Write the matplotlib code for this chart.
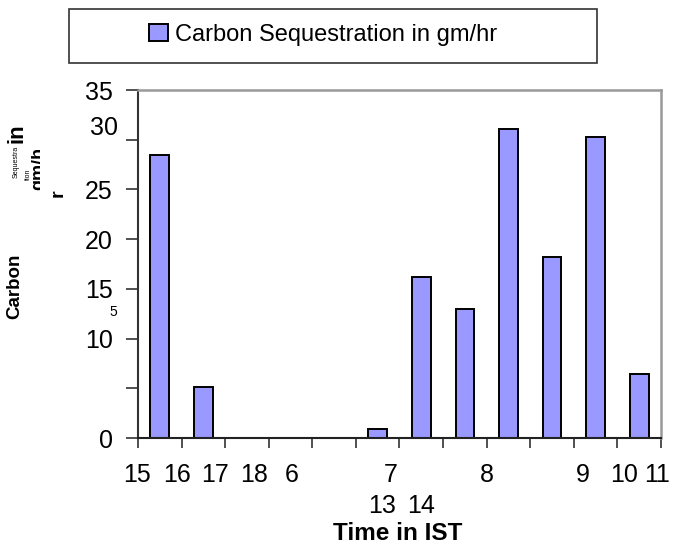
import numpy as np
import matplotlib
matplotlib.use("Agg")
import matplotlib.pyplot as plt
from matplotlib.patches import Rectangle
from matplotlib.transforms import Bbox

plt.rcParams['font.family'] = ['Liberation Sans', 'DejaVu Sans']

# ---------- data ----------
categories = ["15", "16", "17", "18", "6", "7", "13", "14", "8", "9", "10", "11"]
sequestration = [28.5, 5.1, 0, 0, 0, 0.9, 16.2, 13.0, 31.1, 18.2, 30.3, 6.4]
series_name = "Carbon Sequestration in gm/hr"

# garbled x labels as rendered in the source chart (label, x position in data units, row)
xlabel_text = ["15", "16", "17", "18", "6", "7", "8", "9", "10", "11", "13", "14"]
xlabel_pos = [-0.52, 0.39, 1.26, 2.16, 3.03, 5.29, 7.51, 9.71, 10.65, 11.41, 5.09, 6.0]
xlabel_row = [0, 0, 0, 0, 0, 0, 0, 0, 0, 0, 1, 1]

yticks = [0, 5, 10, 15, 20, 25, 30, 35]
ytick_labels = ["0", "", "10", "15", "20", "25", "", "35"]

W, H = 677, 546
BAR_COLOR = "#9999FF"

fig = plt.figure(figsize=(W / 100, H / 100), dpi=100)
ax = fig.add_axes([138 / W, 1 - 438 / H, (661 - 138) / W, (438 - 90) / H])

x = np.arange(len(categories))
bars = ax.bar(x, sequestration, width=0.43, color=BAR_COLOR, edgecolor="black",
              linewidth=1.4, label=series_name, zorder=2)

ax.set_xlim(-0.5, len(categories) - 0.5)
ax.set_ylim(0, 35)

# x ticks on category boundaries, labels drawn separately
ax.set_xticks(np.arange(len(categories) + 1) - 0.5)
ax.set_xticklabels([])
ax.tick_params(axis="x", direction="out", length=7, width=1.2, color="#333333")

ax.set_yticks(yticks)
ax.set_yticklabels(ytick_labels, fontsize=18)
ax.tick_params(axis="y", direction="out", length=9, width=1.2, pad=9, color="#333333")

for s in ["top", "right"]:
    ax.spines[s].set_color("#999999")
    ax.spines[s].set_linewidth(1.8)
ax.spines["left"].set_color("#333333")
ax.spines["bottom"].set_color("#222222")
ax.spines["left"].set_linewidth(1.5)
ax.spines["bottom"].set_linewidth(1.5)

# misplaced y labels
ytr = ax.get_yaxis_transform()
ax.text(-0.038, 31.2, "30", transform=ytr, ha="right", va="center", fontsize=18)
ax.text(-0.04, 12.7, "5", transform=ytr, ha="right", va="center", fontsize=10)

# x labels (two rows) and axis title
xtr = ax.get_xaxis_transform()
row_y = [-0.106, -0.196]
for lab, pos, row in zip(xlabel_text, xlabel_pos, xlabel_row):
    ax.text(pos, row_y[row], lab, transform=xtr, ha="center", va="center", fontsize=18)

fig.text(398 / W, 1 - 533 / H, "Time in IST", ha="center", va="center",
         fontsize=17.5, fontweight="bold")

# broken y-axis title pieces
def ftext(px, py, s, **kw):
    return fig.text(px / W, 1 - py / H, s, ha="center", va="center", rotation=90, **kw)

ftext(15, 286, "Carbon", fontsize=13.5, fontweight="bold")
ftext(17, 133, "in", fontsize=16, fontweight="bold")
ftext(16, 162, "Sequestra", fontsize=5)
ftext(28, 174, "tion", fontsize=5)
ftext(58, 193, "r", fontsize=14, fontweight="bold")
g = ftext(39, 168, "gm/h", fontsize=13, fontweight="bold")
g.set_clip_on(True)
g.set_clip_box(Bbox.from_extents(31, H - 193, 40, H - 146))

# legend box
fig.patches.append(Rectangle((69 / W, 1 - 63 / H), (597 - 69) / W, (63 - 9) / H,
                             transform=fig.transFigure, facecolor="white",
                             edgecolor="#333333", linewidth=1.2))
fig.legend(handles=[bars], labels=[series_name], loc="center",
           bbox_to_anchor=(323 / W, 1 - 35 / H), frameon=False, fontsize=17,
           handlelength=0.78, handleheight=0.75, handletextpad=0.3)

plt.savefig("out.png", dpi=100)
plt.close()
